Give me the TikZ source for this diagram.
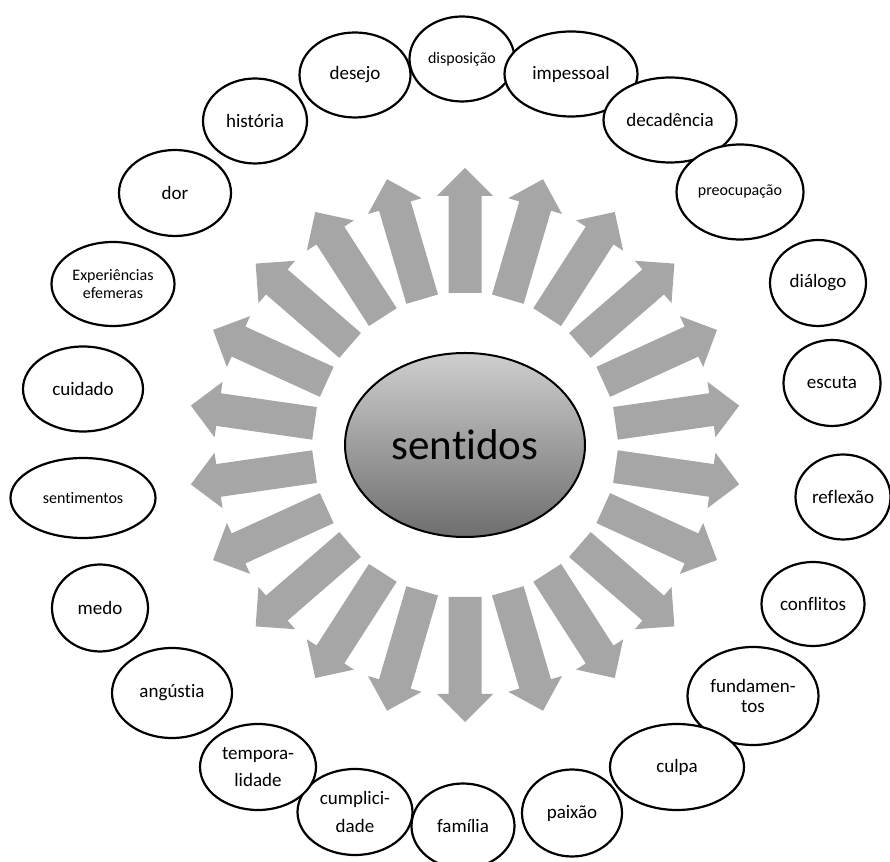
\documentclass[tikz,border=0pt]{standalone}
\usepackage{fontspec}
\setmainfont{Carlito}[Ligatures={NoCommon}]
\usetikzlibrary{shapes.geometric,calc}
\definecolor{arrowgray}{RGB}{166,166,166}
\definecolor{shadetop}{RGB}{206,206,206}
\definecolor{shadebot}{RGB}{110,110,110}
\begin{document}
\begin{tikzpicture}[x=1pt,y=1pt,
  bub/.style={ellipse, draw=black, line width=2.2pt, fill=white, inner sep=0pt, align=center, font=\fontsize{19}{21}\selectfont},
  small/.style={font=\fontsize{16}{18.5}\selectfont},
  blockarrow/.style={fill=arrowgray}]
\useasboundingbox (0,0) rectangle (890,861);
\coordinate (C) at (465,416);
% radial block arrows
\foreach \i in {0,...,21}{
  \pgfmathsetmacro\ang{90-\i*360/22}
  \begin{scope}[shift={(C)}, rotate=\ang]
    \fill[blockarrow] (152,-16.5) -- (249,-16.5) -- (249,-28) -- (277,0) -- (249,28) -- (249,16.5) -- (152,16.5) -- cycle;
  \end{scope}
}
% centre
\node[ellipse, draw=black, line width=2pt, minimum width=240pt, minimum height=184pt, inner sep=0pt,
  top color=shadetop, bottom color=shadebot, font=\fontsize{43}{47}\selectfont] (sentidos) at (C) {sentidos};
% outer items (clockwise from top)
\node[bub, small, minimum width=105pt, minimum height=85pt] (disposicao) at (462,802) {disposição};
\node[bub, minimum width=133pt, minimum height=85pt] (impessoal) at (571,787) {impessoal};
\node[bub, minimum width=133pt, minimum height=85pt] (decadencia) at (670,741) {decadência};
\node[bub, small, minimum width=127pt, minimum height=95pt] (preocupacao) at (740,669) {preocupação};
\node[bub, minimum width=96pt, minimum height=86pt] (dialogo) at (818,578) {diálogo};
\node[bub, minimum width=97pt, minimum height=86pt] (escuta) at (832,478) {escuta};
\node[bub, minimum width=95pt, minimum height=85pt] (reflexao) at (843,364) {reflexão};
\node[bub, minimum width=103pt, minimum height=84pt] (conflitos) at (813,257) {conflitos};
\node[bub, minimum width=131pt, minimum height=98pt, font=\fontsize{19}{20}\selectfont] (fundamentos) at (753,165) {fundamen-\\tos};
\node[bub, minimum width=134pt, minimum height=86pt] (culpa) at (677,94) {culpa};
\node[bub, minimum width=100pt, minimum height=87pt] (paixao) at (572,48) {paixão};
\node[bub, minimum width=103pt, minimum height=85pt] (familia) at (463,35) {família};
\node[bub, minimum width=115pt, minimum height=86pt, font=\fontsize{19}{28}\selectfont] (cumplicidade) at (355,49) {cumplici-\\dade};
\node[bub, minimum width=116pt, minimum height=86pt, font=\fontsize{19}{27}\selectfont] (temporalidade) at (258,94) {tempora-\\lidade};
\node[bub, minimum width=120pt, minimum height=90pt] (angustia) at (172,168) {angústia};
\node[bub, minimum width=96pt, minimum height=87pt] (medo) at (100,253) {medo};
\node[bub, small, minimum width=145pt, minimum height=80pt] (sentimentos) at (83,363) {sentimentos};
\node[bub, minimum width=120pt, minimum height=85pt] (cuidado) at (83,472) {cuidado};
\node[bub, small, minimum width=123pt, minimum height=84pt] (experiencias) at (113,577) {Experiências\\efemeras};
\node[bub, minimum width=112pt, minimum height=86pt] (dor) at (175,668) {dor};
\node[bub, minimum width=104pt, minimum height=85pt] (historia) at (255,740) {história};
\node[bub, minimum width=111pt, minimum height=85pt] (desejo) at (355,786) {desejo};
\end{tikzpicture}
\end{document}
